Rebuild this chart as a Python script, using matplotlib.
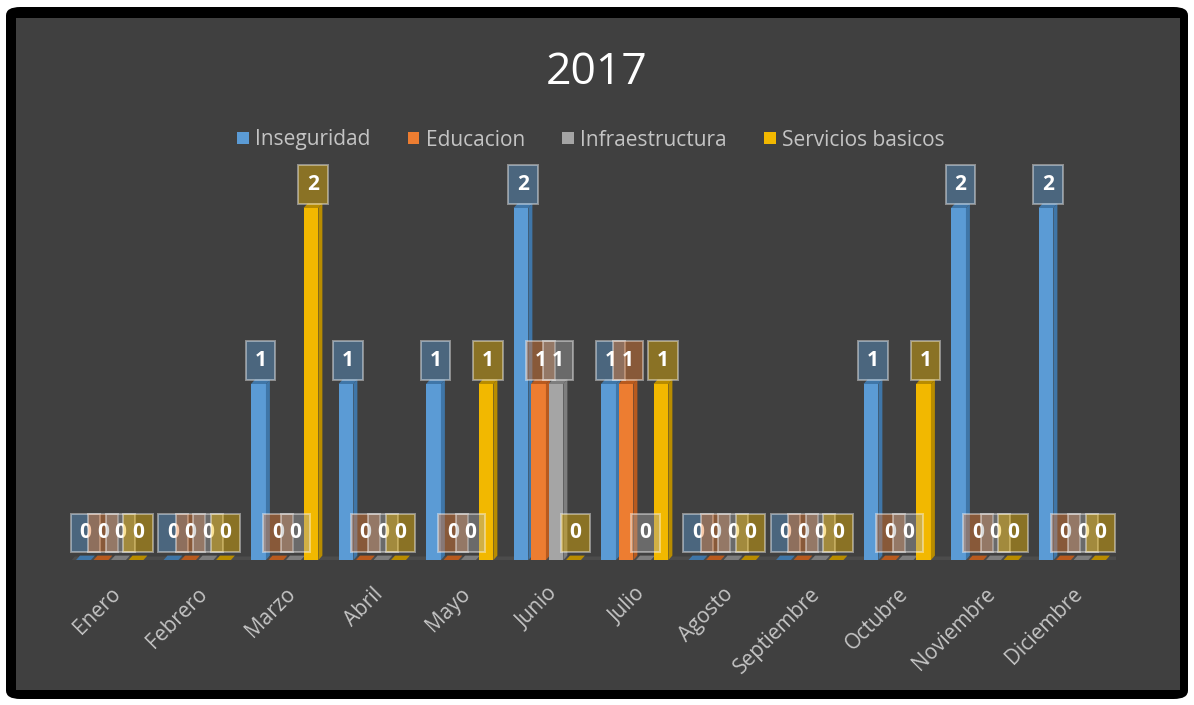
#!/usr/bin/env python3
"""Quejas por mes 2017 - barras agrupadas estilo Excel (fondo oscuro)."""
import matplotlib
matplotlib.use("Agg")
import matplotlib.pyplot as plt
from matplotlib.patches import Polygon, FancyBboxPatch, Rectangle
import numpy as np

MESES = ["Enero", "Febrero", "Marzo", "Abril", "Mayo", "Junio", "Julio",
         "Agosto", "Septiembre", "Octubre", "Noviembre", "Diciembre"]

INSEGURIDAD = [0, 0, 1, 1, 1, 2, 1, 0, 0, 1, 2, 2]
EDUCACION = [0, 0, 0, 0, 0, 1, 1, 0, 0, 0, 0, 0]
INFRAESTRUCTURA = [0, 0, 0, 0, 0, 1, 0, 0, 0, 0, 0, 0]
SERVICIOS = [0, 0, 2, 0, 1, 0, 1, 0, 0, 1, 0, 0]

SERIES = ["Inseguridad", "Educacion", "Infraestructura", "Servicios basicos"]
COLORS = ["#5B9BD5", "#ED7D31", "#A5A5A5", "#F2B800"]
SIDE = ["#3F76A8", "#B85A1E", "#7E7E7E", "#B88C00"]
BG = "#404040"
TXT = "#C4C4C4"

plt.rcParams["font.family"] = ["Open Sans", "DejaVu Sans"]

W, H = 1194, 705
fig = plt.figure(figsize=(W / 100, H / 100), dpi=100, facecolor="white")

# frame: black rounded border + dark panel
fig.patches.append(FancyBboxPatch((6 / W, 6 / H), 1182 / W, 692 / H,
                                  boxstyle="round,pad=0,rounding_size=0.012",
                                  transform=fig.transFigure, facecolor="black",
                                  edgecolor="none", zorder=-2))
fig.patches.append(Rectangle((16 / W, 15 / H), 1164 / W, 672 / H,
                             transform=fig.transFigure, facecolor=BG,
                             edgecolor="none", zorder=-1))

x = np.arange(len(MESES))

ax = fig.add_axes([66 / W, 145 / H, 1050 / W, 440 / H])
ax.set_facecolor("none")
ax.set_xlim(-0.5, 11.5)
ax.set_ylim(0, 2.5)
for s in ax.spines.values():
    s.set_visible(False)
ax.set_yticks([])
ax.set_xticks(x)
ax.set_xticklabels(MESES, rotation=45, ha="right", rotation_mode="anchor",
                   color=TXT, fontsize=15)
ax.tick_params(axis="x", length=0, pad=17)

# floor
ax.add_patch(Polygon([(-0.45, -0.01), (11.55, -0.01), (11.6, 0.02), (-0.4, 0.02)],
                     closed=True, facecolor="#4C4C4C", edgecolor="none", zorder=1))

data = [INSEGURIDAD, EDUCACION, INFRAESTRUCTURA, SERVICIOS]
offsets = [-0.3, -0.1, 0.1, 0.3]
bw = 0.17
dx, dy = 0.045, 0.025
for k, (vals, col, side, off) in enumerate(zip(data, COLORS, SIDE, offsets)):
    xs = x + off
    ax.bar(xs, vals, width=bw, color=col, edgecolor="none", zorder=3 + k,
           label=SERIES[k])
    for xi, v in zip(xs, vals):
        r = xi + bw / 2
        l = xi - bw / 2
        # side face
        ax.add_patch(Polygon([(r, 0), (r + dx, dy), (r + dx, v + dy), (r, v)],
                             closed=True, facecolor=side, edgecolor="none",
                             zorder=3 + k))
        # top face
        ax.add_patch(Polygon([(l, v), (l + dx, v + dy), (r + dx, v + dy), (r, v)],
                             closed=True, facecolor=side, edgecolor="none",
                             zorder=3 + k))
        ax.annotate(str(v), (xi + dx / 2, v), xytext=(0, 17 if v else 19.5),
                    textcoords="offset points", ha="center", va="center",
                    color="white", fontsize=15, fontweight="bold", zorder=20,
                    bbox=dict(boxstyle="square,pad=0.42", facecolor=col,
                              alpha=0.42, edgecolor="white", linewidth=1.4))

leg = ax.legend(loc="center", bbox_to_anchor=(0.5, (705 - 140 - 145) / 440),
                ncol=4, frameon=False, fontsize=15, handlelength=0.55,
                handleheight=0.55, handletextpad=0.3, columnspacing=1.8,
                labelcolor=TXT)

fig.text(0.5, 1 - 73 / H, "2017", ha="center", va="center", color="white",
         fontsize=32)

fig.savefig("out.png", dpi=100, facecolor="white")
